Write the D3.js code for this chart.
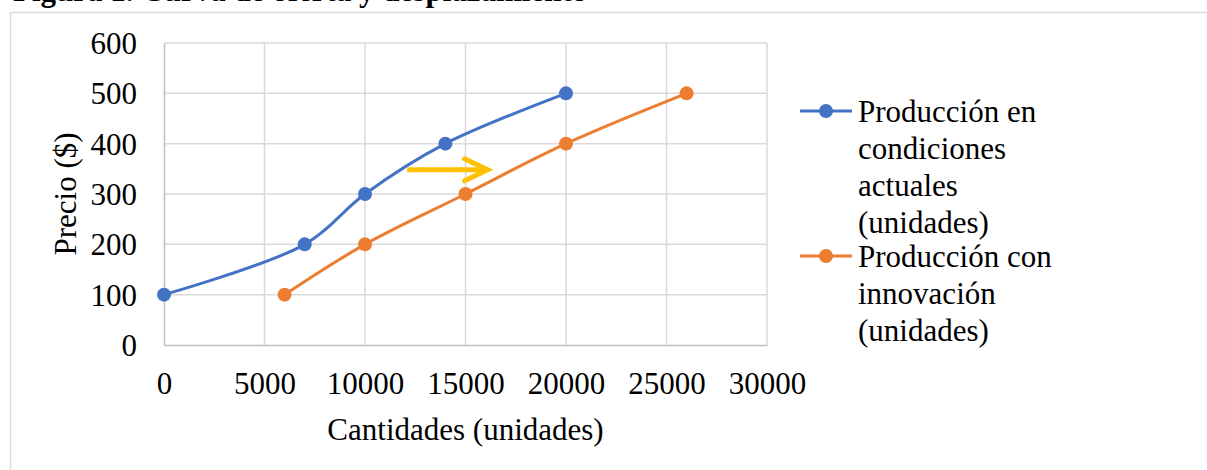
<!DOCTYPE html>
<html>
<head>
<meta charset="utf-8">
<script src="https://cdn.jsdelivr.net/npm/d3@7"></script>
<style>
  html, body { margin: 0; padding: 0; background: #fff; }
  svg { display: block; }
  text { font-family: "Liberation Serif", "Times New Roman", serif; fill: #000; }
</style>
</head>
<body>
<div id="chart"></div>
<script>
// ---- data ----
const titleText = "Figura 1. Curva de oferta y desplazamiento";
const xTitle = "Cantidades (unidades)";
const yTitle = "Precio ($)";
const xTicks = [0, 5000, 10000, 15000, 20000, 25000, 30000];
const yTicks = [0, 100, 200, 300, 400, 500, 600];
const actualQty = [0, 7000, 10000, 14000, 20000];
const actualPrice = [100, 200, 300, 400, 500];
const innovQty = [6000, 10000, 15000, 20000, 26000];
const innovPrice = [100, 200, 300, 400, 500];
const legendLines1 = ["Producción en", "condiciones", "actuales", "(unidades)"];
const legendLines2 = ["Producción con", "innovación", "(unidades)"];
const arrowQty = [12100, 16100];
const arrowPrice = [348, 348];

const W = 1207, H = 470;
const colors = { actual: "#4472C4", innov: "#ED7D31", arrow: "#FFC000" };

const svg = d3.select("#chart").append("svg").attr("width", W).attr("height", H);

// title, cut off at the very top as in the reference (only lower parts visible)
svg.append("text")
  .attr("x", 13).attr("y", 0.5)
  .attr("font-size", 31).attr("font-weight", "bold")
  .text(titleText);

// chart area border
svg.append("rect")
  .attr("x", 10.5).attr("y", 12.5)
  .attr("width", 1210).attr("height", 480)
  .attr("fill", "#fff").attr("stroke", "#d9d9d9").attr("stroke-width", 1.5);

const x = d3.scaleLinear().domain([0, 30000]).range([164, 767]);
const y = d3.scaleLinear().domain([0, 600]).range([345, 43]);

// gridlines
const g = svg.append("g");
g.selectAll(".hg").data(yTicks.filter(d => d > 0)).join("line")
  .attr("x1", x(0)).attr("x2", x(30000))
  .attr("y1", d => y(d)).attr("y2", d => y(d))
  .attr("stroke", "#d9d9d9").attr("stroke-width", 1.5);
g.selectAll(".vg").data(xTicks.filter(d => d > 0)).join("line")
  .attr("x1", d => x(d)).attr("x2", d => x(d))
  .attr("y1", y(0)).attr("y2", y(600))
  .attr("stroke", "#d9d9d9").attr("stroke-width", 1.5);

// axes via d3 axis generators
const yAxis = svg.append("g").attr("transform", `translate(${x(0)},0)`)
  .call(d3.axisLeft(y).tickValues(yTicks).tickSize(0).tickPadding(27).tickFormat(d3.format("d")));
const xAxis = svg.append("g").attr("transform", `translate(0,${y(0)})`)
  .call(d3.axisBottom(x).tickValues(xTicks).tickSize(0).tickPadding(27).tickFormat(d3.format("d")));
[xAxis, yAxis].forEach(a => {
  a.select(".domain").attr("stroke", "#bfbfbf").attr("stroke-width", 1.5);
  a.selectAll("text").attr("font-size", 31).attr("font-family", "Liberation Serif, serif").attr("fill", "#000");
});
yAxis.selectAll("text").attr("dy", "0.34em");

// axis titles
svg.append("text")
  .attr("x", (x(0) + x(30000)) / 2).attr("y", 440)
  .attr("text-anchor", "middle").attr("font-size", 31)
  .text(xTitle);
svg.append("text")
  .attr("transform", `translate(76,${(y(0) + y(600)) / 2}) rotate(-90)`)
  .attr("text-anchor", "middle").attr("font-size", 31)
  .text(yTitle);

// series
const line = d3.line().x(d => x(d[0])).y(d => y(d[1])).curve(d3.curveCatmullRom.alpha(0.5));
const series = [
  { key: "actual", pts: actualQty.map((q, i) => [q, actualPrice[i]]) },
  { key: "innov", pts: innovQty.map((q, i) => [q, innovPrice[i]]) }
];
series.forEach(s => {
  svg.append("path").datum(s.pts)
    .attr("d", line).attr("fill", "none")
    .attr("stroke", colors[s.key]).attr("stroke-width", 3)
    .attr("stroke-linejoin", "round").attr("stroke-linecap", "round");
  svg.append("g").selectAll("circle").data(s.pts).join("circle")
    .attr("cx", d => x(d[0])).attr("cy", d => y(d[1])).attr("r", 7)
    .attr("fill", colors[s.key]);
});

// shift arrow
const ax1 = x(arrowQty[0]), ax2 = x(arrowQty[1]), ay = y(arrowPrice[0]);
svg.append("line")
  .attr("x1", ax1).attr("x2", ax2 - 2).attr("y1", ay).attr("y2", ay)
  .attr("stroke", colors.arrow).attr("stroke-width", 5);
svg.append("path")
  .attr("d", `M${ax2 - 23},${ay - 11} L${ax2},${ay} L${ax2 - 23},${ay + 11}`)
  .attr("fill", "none").attr("stroke", colors.arrow).attr("stroke-width", 5)
  .attr("stroke-linejoin", "miter").attr("stroke-linecap", "round");

// legend
const lineH = 37;
const legends = [
  { key: "actual", lines: legendLines1, y0: 111 },
  { key: "innov", lines: legendLines2, y0: 256 }
];
legends.forEach(l => {
  const lg = svg.append("g");
  lg.append("line").attr("x1", 800).attr("x2", 852).attr("y1", l.y0).attr("y2", l.y0)
    .attr("stroke", colors[l.key]).attr("stroke-width", 3);
  lg.append("circle").attr("cx", 826).attr("cy", l.y0).attr("r", 7).attr("fill", colors[l.key]);
  lg.selectAll("text").data(l.lines).join("text")
    .attr("x", 858).attr("y", (d, i) => l.y0 + i * lineH)
    .attr("dy", "0.34em").attr("font-size", 31)
    .text(d => d);
});
</script>
</body>
</html>
